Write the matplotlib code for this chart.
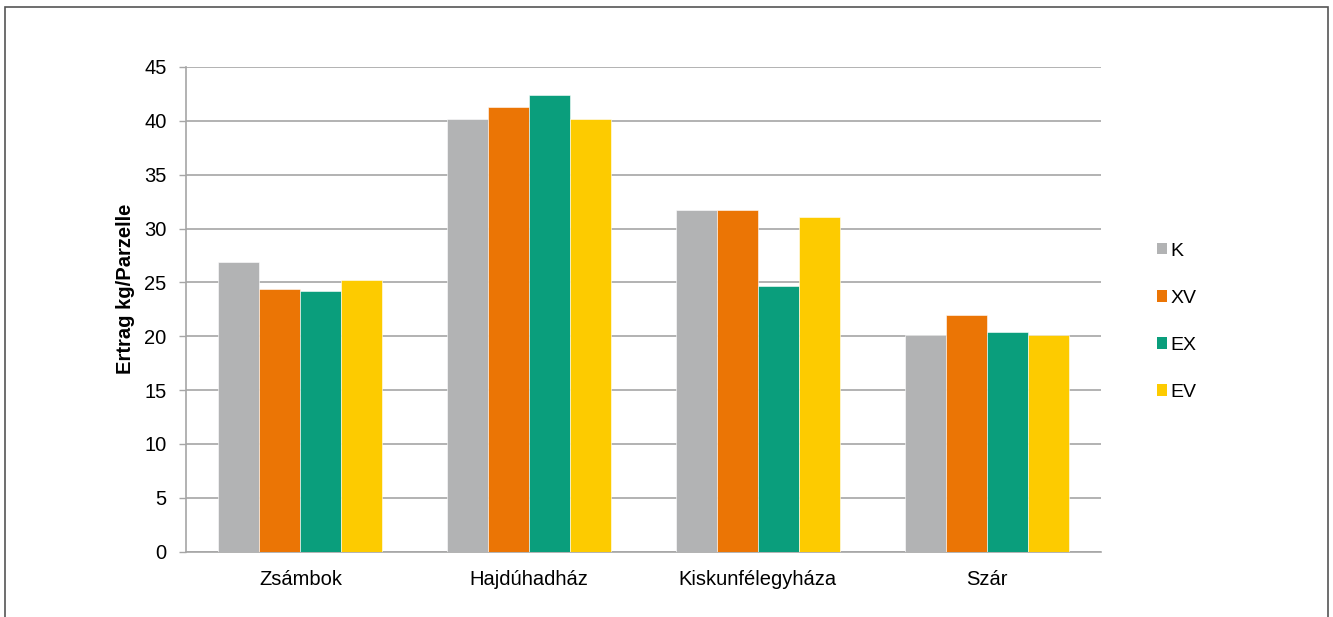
import matplotlib
matplotlib.use("Agg")
import matplotlib.pyplot as plt
import numpy as np
from matplotlib.patches import Patch, Rectangle

categories = ["Zsámbok", "Hajdúhadház", "Kiskunfélegyháza", "Szár"]
series_names = ["K", "XV", "EX", "EV"]
K = [26.9, 40.2, 31.7, 20.1]
XV = [24.4, 41.3, 31.7, 22.0]
EX = [24.2, 42.4, 24.7, 20.4]
EV = [25.2, 40.2, 31.1, 20.1]
yticks = [0, 5, 10, 15, 20, 25, 30, 35, 40, 45]
colors = ["#b2b3b4", "#eb7505", "#0a9e7c", "#fdcb00"]

plt.rcParams['font.family'] = ['Liberation Sans', 'DejaVu Sans']

fig = plt.figure(figsize=(13.33, 6.17), dpi=100)
W, H = 1333, 617
ax = fig.add_axes([186 / W, 1 - 551.5 / H, (1101 - 186) / W, (551.5 - 67) / H])

# outer border
fig.patches.append(Rectangle((5 / W, -0.05), (1328 - 5) / W, 1 - 7 / H + 0.05,
                             transform=fig.transFigure, fill=False,
                             edgecolor="#555555", linewidth=1.2))

x = np.arange(len(categories))
bw = 0.179
data = [K, XV, EX, EV]
for i, (vals, c) in enumerate(zip(data, colors)):
    ax.bar(x + (i - 1.5) * bw, vals, width=bw, color=c, edgecolor="white",
           linewidth=0.4, zorder=3)

ax.set_xlim(-0.5, len(categories) - 0.5)
ax.set_ylim(0, 45)
ax.set_yticks(yticks)
ax.set_yticklabels([str(t) for t in yticks], fontsize=14.5)
ax.set_xticks(x)
ax.set_xticklabels(categories, fontsize=14.5)
ax.tick_params(axis="x", length=0, pad=13)
ax.tick_params(axis="y", length=5, width=1, color="#a6a6a6", pad=9)
ax.yaxis.grid(True, color="#a6a6a6", linewidth=1.2, zorder=0)
ax.set_axisbelow(True)
for s in ["top", "right"]:
    ax.spines[s].set_visible(False)
for s in ["left", "bottom"]:
    ax.spines[s].set_color("#a6a6a6")
    ax.spines[s].set_linewidth(1.2)
ax.set_ylabel("Ertrag kg/Parzelle", fontsize=14.5, fontweight="bold", labelpad=1)
ax.yaxis.set_label_coords(-0.056, 0.542)

handles = [Patch(facecolor=c, edgecolor="none") for c in colors]
leg = fig.legend(handles, series_names, loc="upper left",
                 bbox_to_anchor=(1139 / W, 1 - 225 / H), frameon=False,
                 fontsize=14, handlelength=0.55, handleheight=0.55,
                 handletextpad=0.15, labelspacing=1.55)

fig.savefig("out.png", dpi=100)
